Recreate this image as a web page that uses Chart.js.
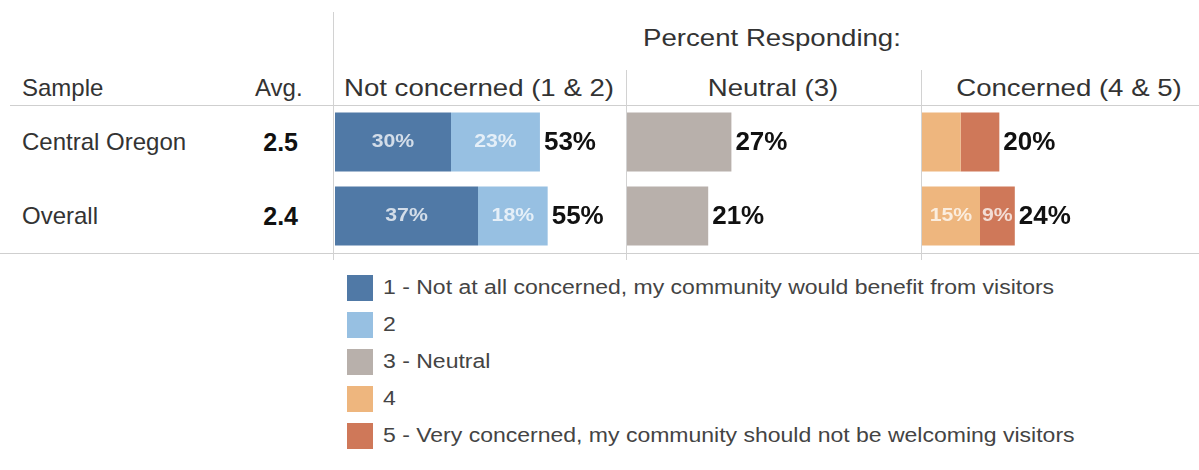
<!DOCTYPE html>
<html>
<head>
<meta charset="utf-8">
<script src="https://cdn.jsdelivr.net/npm/chart.js@4.4.1/dist/chart.umd.min.js"></script>
<style>
  body { margin: 0; width: 1199px; height: 470px; background: #fff; position: relative; overflow: hidden;
         font-family: "Liberation Sans", Arial, sans-serif; }
  .t { position: absolute; white-space: nowrap; color: #333; line-height: 1; }
  .hd { font-size: 24px; transform: translate(-50%, -50%) scaleX(1.15); }
  .lab { font-size: 24px; transform: translateY(-50%); }
  .avg { font-size: 25px; font-weight: bold; color: #111; transform: translate(-100%, -50%); }
  .hl { position: absolute; height: 1px; background: #cfcfcf; }
  .vl { position: absolute; width: 1px; background: #d2d2d2; }
  canvas { position: absolute; }
  .leg { position: absolute; left: 347px; font-size: 20px; color: #444; }
  .leg div { height: 37px; display: flex; align-items: center; white-space: nowrap; }
  .leg span.sw { display: inline-block; width: 26px; height: 26px; margin-right: 10px; }
  .leg span.tx { display: inline-block; transform: scaleX(1.15); transform-origin: left center; }
</style>
</head>
<body>
<script>
// rows of the table
const samples = ['Central Oregon', 'Overall'];
const averages = ['2.5', '2.4'];

// percent responding for each answer (1..5), per sample
const level1 = [30, 37];
const level2 = [23, 18];
const level3 = [27, 21];
const level4 = [10, 15];
const level5 = [10, 9];

const seriesNames = [
  '1 - Not at all concerned, my community would benefit from visitors',
  '2',
  '3 - Neutral',
  '4',
  '5 - Very concerned, my community should not be welcoming visitors'
];
const groupNames = ['Not concerned (1 & 2)', 'Neutral (3)', 'Concerned (4 & 5)'];
const groupSeries = [[0, 1], [2], [3, 4]];
// which segments carry a percent label inside the bar
const insideLabels = [[true, true], [true, true], [false, false], [false, true], [false, true]];

const seriesValues = [level1, level2, level3, level4, level5];
const seriesColors = ['#5079a6', '#97c0e2', '#b8b0ab', '#eeb67e', '#cf7859'];

function addEl(cls, text, css) {
  const d = document.createElement('div');
  d.className = cls;
  if (text != null) d.textContent = text;
  Object.assign(d.style, css);
  document.body.appendChild(d);
  return d;
}

// table frame
addEl('hl', null, { left: '10px', top: '105px', width: '1189px' });
addEl('hl', null, { left: '0px', top: '253px', width: '1199px' });
addEl('vl', null, { left: '333px', top: '12px', height: '248px' });
addEl('vl', null, { left: '626px', top: '70px', height: '190px' });
addEl('vl', null, { left: '921px', top: '70px', height: '190px' });

// headers
addEl('t hd', 'Percent Responding:', { left: '772px', top: '38px' });
addEl('t lab', 'Sample', { left: '22px', top: '88px' });
addEl('t lab', 'Avg.', { left: '255px', top: '88px' });
const headCenters = [479, 773, 1069];
groupNames.forEach((g, i) => addEl('t hd', g, { left: headCenters[i] + 'px', top: '88px' }));

// row labels
const rowY = [142, 216];
samples.forEach((s, i) => {
  addEl('t lab', s, { left: '22px', top: rowY[i] + 'px' });
  addEl('t avg', averages[i], { left: '298px', top: rowY[i] + 'px' });
});

// percent labels inside segments and total at the end
const barLabels = {
  id: 'barLabels',
  afterDatasetsDraw(chart) {
    const ctx = chart.ctx;
    const sets = chart.data.datasets;
    ctx.textBaseline = 'middle';
    sets.forEach((ds, di) => {
      const meta = chart.getDatasetMeta(di);
      meta.data.forEach((bar, j) => {
        if (sets.length > 1 && insideLabels[ds.seriesIndex][j]) {
          ctx.save();
          ctx.translate((bar.x + bar.base) / 2, bar.y);
          ctx.scale(1.18, 1);
          ctx.font = 'bold 18px "Liberation Sans", Arial, sans-serif';
          ctx.fillStyle = 'rgba(255,255,255,0.75)';
          ctx.textAlign = 'center';
          ctx.textBaseline = 'middle';
          ctx.fillText(ds.data[j] + '%', 0, 0);
          ctx.restore();
        }
        if (di === sets.length - 1) {
          const total = sets.reduce((a, d) => a + d.data[j], 0);
          ctx.save();
          ctx.font = 'bold 26px "Liberation Sans", Arial, sans-serif';
          ctx.fillStyle = '#111';
          ctx.textAlign = 'left';
          ctx.textBaseline = 'middle';
          ctx.fillText(total + '%', bar.x + 4, bar.y + 1);
          ctx.restore();
        }
      });
    });
  }
};

const panelLeft = [335, 627, 922];
groupSeries.forEach((idx, p) => {
  const cv = document.createElement('canvas');
  cv.width = 290; cv.height = 148;
  Object.assign(cv.style, { left: panelLeft[p] + 'px', top: '105px', width: '290px', height: '148px' });
  document.body.appendChild(cv);
  new Chart(cv, {
    type: 'bar',
    data: {
      labels: samples,
      datasets: idx.map(i => ({
        label: seriesNames[i], seriesIndex: i, data: seriesValues[i],
        backgroundColor: seriesColors[i], barPercentage: 1, categoryPercentage: 0.8
      }))
    },
    options: {
      indexAxis: 'y', responsive: false, animation: false,
      layout: { padding: 0 },
      plugins: { legend: { display: false }, tooltip: { enabled: false } },
      scales: {
        x: { stacked: true, min: 0, max: 75, display: false },
        y: { stacked: true, display: false }
      }
    },
    plugins: [barLabels]
  });
});

// legend
const leg = addEl('leg', null, { top: '269px' });
seriesNames.forEach((n, i) => {
  const row = document.createElement('div');
  const sw = document.createElement('span');
  sw.className = 'sw';
  sw.style.background = seriesColors[i];
  const tx = document.createElement('span');
  tx.className = 'tx';
  tx.textContent = n;
  row.appendChild(sw);
  row.appendChild(tx);
  leg.appendChild(row);
});
</script>
</body>
</html>
